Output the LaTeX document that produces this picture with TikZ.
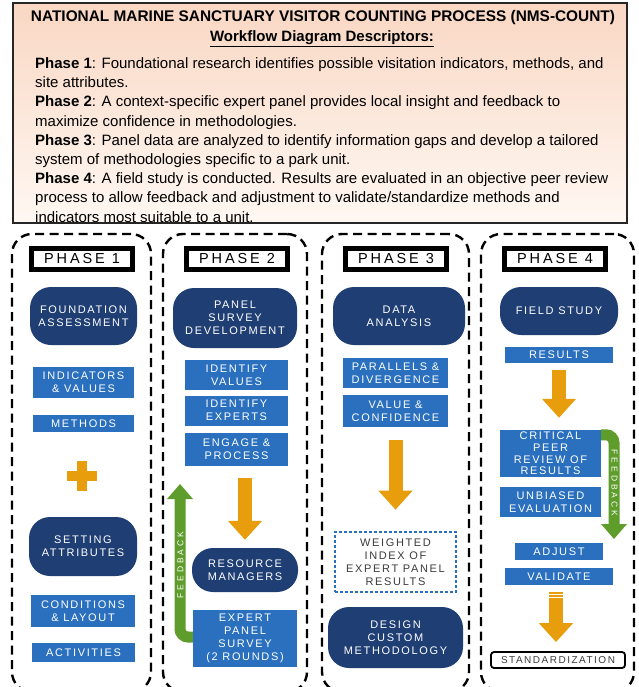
\documentclass[tikz,border=0pt]{standalone}
\usepackage{fontspec}
\setmainfont{Liberation Sans}
\newfontfamily\spacedA[LetterSpace=15]{Liberation Sans}
\newfontfamily\spacedB[LetterSpace=20]{Liberation Sans}
\newfontfamily\spacedC[LetterSpace=35]{Liberation Sans}
\usetikzlibrary{arrows.meta}

\definecolor{navy}{HTML}{1F3E74}
\definecolor{boxblue}{HTML}{2A70BF}
\definecolor{amber}{HTML}{E89E0C}
\definecolor{leaf}{HTML}{5E9C2C}
\definecolor{peachtop}{HTML}{F9D7C3}
\definecolor{peachbot}{HTML}{FFF8F3}
\definecolor{inkgray}{HTML}{3C3C3C}

\newcommand\tilefont{\spacedA\fontsize{11}{13}\selectfont}
\newcommand\labelfont{\spacedB\fontsize{14.5}{15}\selectfont}
\newcommand\fbfont{\spacedC\fontsize{8.5}{9}\selectfont}
\newcommand\stdfont{\spacedA\fontsize{10}{11}\selectfont}

\tikzset{
  column/.style={draw=black, line width=2.4pt, dash pattern=on 9pt off 5.5pt,
    rounded corners=20pt, inner sep=0pt},
  phaselabel/.style={draw=black, line width=4.5pt, fill=white, inner sep=0pt,
    minimum width=101pt, minimum height=21pt, font=\labelfont},
  pill/.style={fill=navy, rounded corners=21pt, inner sep=0pt, text=white,
    align=center, font=\tilefont},
  tile/.style={fill=boxblue, inner sep=0pt, text=white, align=center, font=\tilefont},
  dottedbox/.style={draw=boxblue, line width=2.6pt, dash pattern=on 2.6pt off 2.4pt,
    inner sep=0pt, text=inkgray, align=center, font=\tilefont},
  finalbox/.style={draw=black, line width=1.8pt, rounded corners=3pt, fill=white,
    inner sep=0pt, text=inkgray, font=\stdfont},
  flowarrow/.style={draw=amber, line width=14pt, -{Triangle[width=33pt,length=19pt]}},
  loopback/.style={draw=leaf, line width=11pt, rounded corners=8pt,
    -{Triangle[width=25pt,length=15pt]}},
  fbtext/.style={text=white, font=\fbfont, inner sep=0pt},
}

\begin{document}
\begin{tikzpicture}[x=1pt, y=-1pt]
\useasboundingbox (0,0) rectangle (638,687);
\fill[white] (0,0) rectangle (638,687);

% ---- descriptor panel ----
\node[draw=black!85, line width=1.5pt, top color=peachtop, bottom color=peachbot,
      inner sep=0pt, minimum width=614pt, minimum height=220pt] (hdr) at (320,113) {};
\node[font=\bfseries\fontsize{15.4}{18}\selectfont, inner sep=0pt] (title) at (323,18)
  {NATIONAL MARINE SANCTUARY VISITOR COUNTING PROCESS (NMS-COUNT)};
\node[font=\bfseries\fontsize{15}{18}\selectfont, inner sep=0pt] (subtitle) at (322,39)
  {\underline{Workflow Diagram Descriptors:}};
\node[anchor=north west, inner sep=0pt, align=left, font=\fontsize{15}{19.2}\selectfont] (desc) at (35,57.5) {%
\textbf{Phase 1}: Foundational research identifies possible visitation indicators, methods, and\\
site attributes.\\
\textbf{Phase 2}: A context-specific expert panel provides local insight and feedback to\\
maximize confidence in methodologies.\\
\textbf{Phase 3}: Panel data are analyzed to identify information gaps and develop a tailored\\
system of methodologies specific to a park unit.\\
\textbf{Phase 4}: A field study is conducted. Results are evaluated in an objective peer review\\
process to allow feedback and adjustment to validate/standardize methods and\\
indicators most suitable to a unit.};

% ---- phase columns ----
\node[column, minimum width=139pt, minimum height=458pt] (col1) at (81.5,463) {};
\node[column, minimum width=144pt, minimum height=458pt] (col2) at (235,463) {};
\node[column, minimum width=147pt, minimum height=458pt] (col3) at (395.5,463) {};
\node[column, minimum width=153pt, minimum height=458pt] (col4) at (557.5,463) {};

\node[phaselabel] (ph1) at (82,259) {PHASE 1};
\node[phaselabel] (ph2) at (237,259) {PHASE 2};
\node[phaselabel] (ph3) at (396,259) {PHASE 3};
\node[phaselabel] (ph4) at (555,259) {PHASE 4};

% ---- phase 1 ----
\node[pill, minimum width=107pt, minimum height=58pt] (fa) at (83.5,316) {FOUNDATION\\ASSESSMENT};
\node[tile, minimum width=101pt, minimum height=31pt] (iv) at (83.5,382.5) {INDICATORS\\\& VALUES};
\node[tile, minimum width=101pt, minimum height=17pt] (me) at (83.5,423.5) {METHODS};
\fill[amber] (67,471) rectangle (97,481);
\fill[amber] (77,461) rectangle (87,491);
\node[pill, minimum width=108pt, minimum height=59pt] (sa) at (83,546.5) {SETTING\\ATTRIBUTES};
\node[tile, minimum width=104pt, minimum height=32pt] (cl) at (83,611) {CONDITIONS\\\& LAYOUT};
\node[tile, minimum width=103pt, minimum height=19pt] (ac) at (83.5,652.5) {ACTIVITIES};

% ---- phase 2 ----
\node[pill, minimum width=124pt, minimum height=60pt] (psd) at (235,318) {PANEL\\SURVEY\\DEVELOPMENT};
\node[tile, minimum width=103pt, minimum height=30pt] (idv) at (236.5,375) {IDENTIFY\\VALUES};
\node[tile, minimum width=103pt, minimum height=30pt] (ide) at (236.5,410.5) {IDENTIFY\\EXPERTS};
\node[tile, minimum width=103pt, minimum height=33pt] (ep) at (236.5,449.5) {ENGAGE \&\\PROCESS};
\node[pill, minimum width=106pt, minimum height=44pt] (rm) at (245,570) {RESOURCE\\MANAGERS};
\node[tile, minimum width=104pt, minimum height=57pt] (eps) at (245,638.5) {EXPERT\\PANEL\\SURVEY\\(2 ROUNDS)};
\path (ep.south -| rm.north) ++(0,12) coordinate (a2top);
\draw[flowarrow] (a2top) -- ([yshift=8pt]rm.north);
\coordinate (fb2tip) at (180,484);
\draw[loopback] ([yshift=1.5pt]eps.west) -| (fb2tip);
\node[fbtext, rotate=90] (fbl2) at (180.5,565) {FEEDBACK};

% ---- phase 3 ----
\node[pill, minimum width=132pt, minimum height=58pt] (da) at (399,316) {DATA\\ANALYSIS};
\node[tile, minimum width=105pt, minimum height=30pt] (pd) at (395.5,373) {PARALLELS \&\\DIVERGENCE};
\node[tile, minimum width=105pt, minimum height=32pt] (vc) at (395.5,411) {VALUE \&\\CONFIDENCE};
\node[dottedbox, minimum width=121pt, minimum height=60pt] (wi) at (395.5,562) {WEIGHTED\\INDEX OF\\EXPERT PANEL\\RESULTS};
\node[pill, minimum width=135pt, minimum height=61pt] (dcm) at (395.5,637.5) {DESIGN\\CUSTOM\\METHODOLOGY};
\draw[flowarrow] ([yshift=-13pt]vc.south) -- ([yshift=21pt]wi.north);

% ---- phase 4 ----
\node[pill, minimum width=118pt, minimum height=48pt] (fs) at (559,311) {FIELD STUDY};
\node[tile, minimum width=108pt, minimum height=16pt] (rs) at (559,355) {RESULTS};
\node[tile, minimum width=101pt, minimum height=47pt, font=\spacedA\fontsize{11}{11.6}\selectfont] (cpr) at (550.5,453.5) {CRITICAL\\PEER\\REVIEW OF\\RESULTS};
\node[tile, minimum width=101pt, minimum height=30pt] (ue) at (550.5,502) {UNBIASED\\EVALUATION};
\node[tile, minimum width=88pt, minimum height=17pt] (adj) at (559,551.5) {ADJUST};
\node[tile, minimum width=108pt, minimum height=17pt] (val) at (559,576.5) {VALIDATE};
\node[finalbox, minimum width=134pt, minimum height=16pt] (std) at (558,660) {STANDARDIZATION};
\path (rs.south) ++(0,7) coordinate (a4top);
\path (rs.south |- cpr.north) ++(0,-12) coordinate (a4tip);
\draw[flowarrow] (a4top) -- (a4tip);
\coordinate (fb4tip) at (614,539);
\draw[loopback] ([yshift=-5pt]cpr.north east) -| (fb4tip);
\node[fbtext, rotate=-90] (fbl4) at (614.5,483) {FEEDBACK};
\path (val.south) ++(-3,7) coordinate (a5top);
\path (a5top |- std.north) ++(0,-9) coordinate (a5tip);
\draw[flowarrow] (a5top) -- (a5tip);
\draw[white, line width=1pt] (549,594.3) -- (563,594.3) (549,597.2) -- (563,597.2);
\end{tikzpicture}
\end{document}
